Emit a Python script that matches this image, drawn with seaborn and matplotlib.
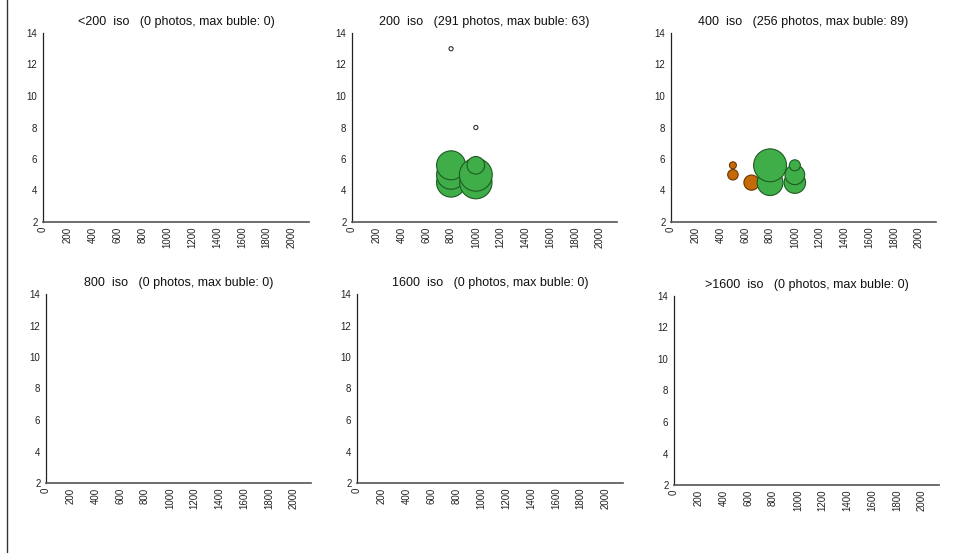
import matplotlib
matplotlib.use("Agg")
import pandas as pd
import matplotlib.pyplot as plt
import seaborn as sns
from matplotlib.lines import Line2D

# Panel labels and summary numbers
iso_labels = ['<200', '200', '400', '800', '1600', '>1600']
photo_counts = [0, 291, 256, 0, 0, 0]
max_bubbles = [0, 63, 89, 0, 0, 0]

# 200 iso bubbles (x = focal length, y = aperture, n = photos)
iso200_x = [800, 1000, 800, 800, 800, 1000, 1000, 1000]
iso200_y = [13, 8, 4.5, 5.0, 5.6, 4.5, 5.0, 5.6]
iso200_n = [1, 1, 49, 49, 49, 61, 63, 18]
iso200_grp = ['tiny', 'tiny', 'green', 'green', 'green', 'green', 'green', 'green']

# 400 iso bubbles
iso400_x = [500, 500, 650, 800, 800, 1000, 1000, 1000]
iso400_y = [5.6, 5.0, 4.5, 4.5, 5.6, 4.5, 5.0, 5.6]
iso400_n = [4, 9, 19, 55, 89, 38, 32, 10]
iso400_grp = ['orange', 'orange', 'orange', 'green', 'green', 'green', 'green', 'green']

bubbles = {
    '200': (iso200_x, iso200_y, iso200_n, iso200_grp),
    '400': (iso400_x, iso400_y, iso400_n, iso400_grp),
}

palette = {'green': '#3fae49', 'orange': '#c46a08', 'tiny': '#ffffff'}
edges = {'green': '#1e5a22', 'orange': '#6b3500', 'tiny': '#333333'}

sns.set_style('white')
plt.rcParams['font.family'] = ['Liberation Sans', 'DejaVu Sans']

fig = plt.figure(figsize=(9.55, 5.55), dpi=100)

# axes boxes in pixels: left, top, right, bottom
boxes = [(43, 33, 309, 222), (352, 33, 617, 222), (671, 33, 936, 222),
         (46, 294, 311, 483), (357, 294, 623, 483), (674, 296, 939, 485)]
W, H = 955, 555

for i, label in enumerate(iso_labels):
    l, t, r, b = boxes[i]
    ax = fig.add_axes([l / W, 1 - b / H, (r - l) / W, (b - t) / H])

    if label in bubbles:
        bx, by, bn, bg = bubbles[label]
        df = pd.DataFrame({'focal': bx, 'aperture': by, 'n': bn, 'grp': bg})
        sns.scatterplot(data=df, x='focal', y='aperture', size='n', hue='grp',
                        palette=palette, sizes=(0, 560),
                        size_norm=(0, max_bubbles[i]), linewidth=0.8,
                        legend=False, ax=ax)
        ax.collections[-1].set_edgecolor([edges[g] for g in bg])

    ax.set_xlim(0, 2140)
    ax.set_ylim(2, 14)
    ax.set_xticks(range(0, 2001, 200))
    ax.set_yticks(range(2, 15, 2))
    ax.set_xlabel('')
    ax.set_ylabel('')
    ax.tick_params(axis='x', labelrotation=90, labelsize=7, direction='inout',
                   length=5, width=0.8, colors='#222222', pad=1)
    ax.tick_params(axis='y', labelsize=7, direction='out', length=3,
                   width=0.8, colors='#222222', pad=1)
    for side in ['top', 'right']:
        ax.spines[side].set_visible(False)
    ax.spines['left'].set_color('#222222')
    ax.spines['bottom'].set_color('#555555')
    ax.spines['left'].set_linewidth(0.9)
    ax.spines['bottom'].set_linewidth(1.2)
    ax.set_title(f'{label}  iso   ({photo_counts[i]} photos, max buble: {max_bubbles[i]})',
                 fontsize=9, color='#111111', pad=6)

# thin frame line at the left edge
fig.add_artist(Line2D([7 / W, 7 / W], [1, 1 - 552 / H], color='#333333', lw=1))

fig.savefig('out.png', dpi=100)
